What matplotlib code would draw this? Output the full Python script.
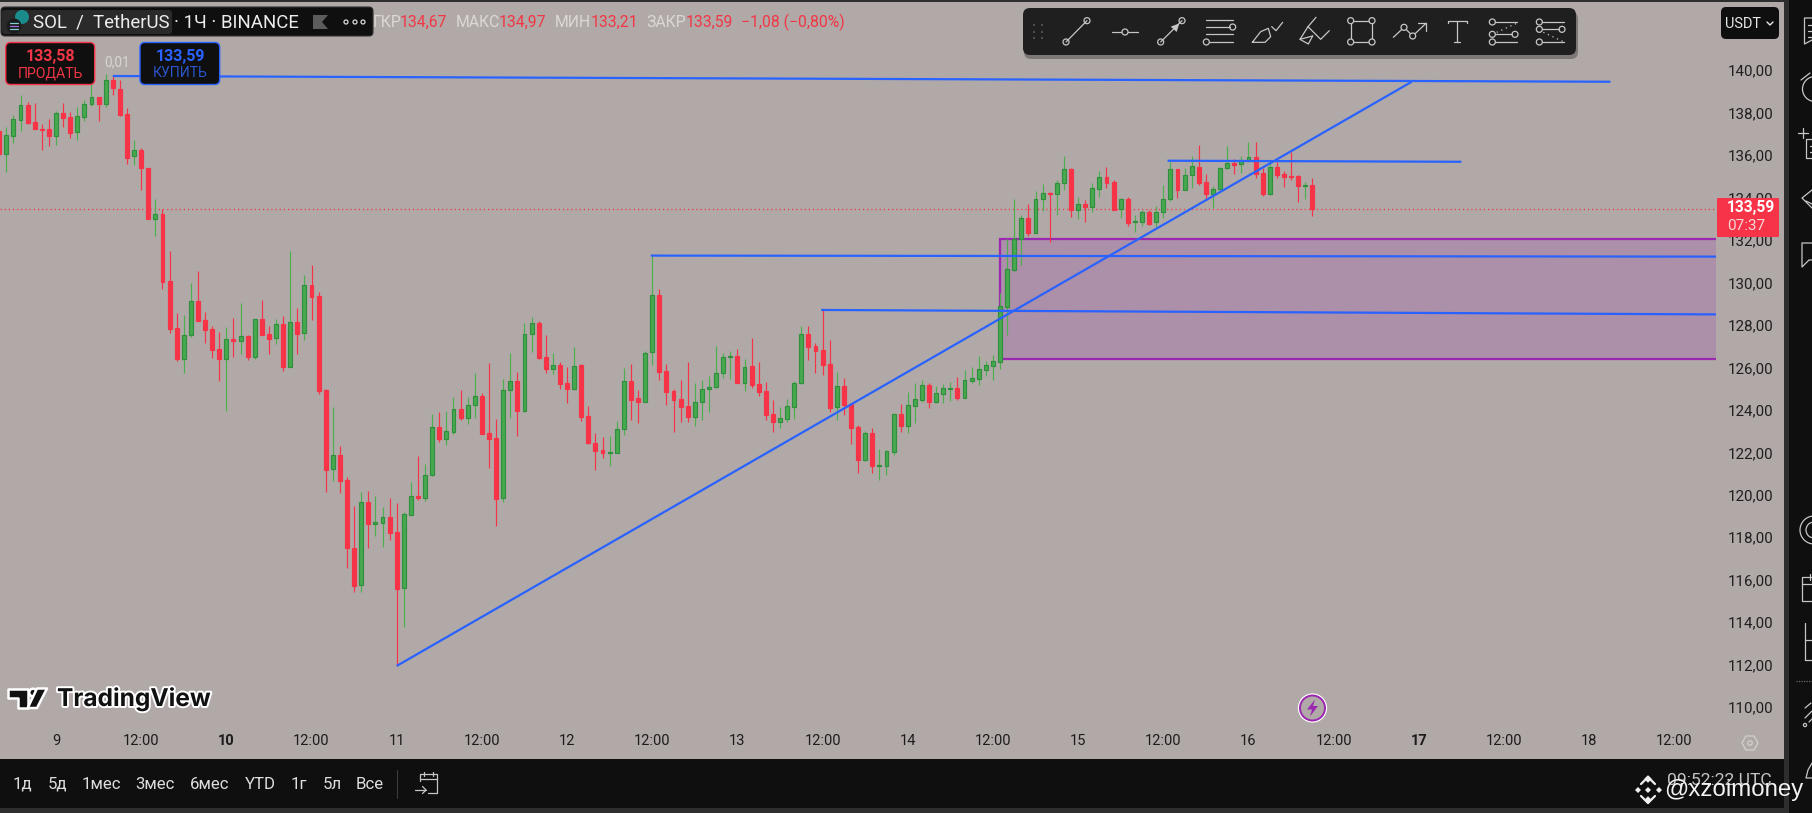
import numpy as np
import matplotlib
matplotlib.use('Agg')
import matplotlib.pyplot as plt
from matplotlib.patches import FancyBboxPatch, Rectangle, Polygon, Circle
from matplotlib.transforms import ScaledTranslation
import matplotlib.patheffects as pe

plt.rcParams['font.family'] = ['Roboto', 'DejaVu Sans']

# ---------- data: SOL/USDT 1h candles, hour 0 = day 9 00:00 ----------
first_hour = -8
opens = [137.25,136.15,137.03,137.78,138.46,137.67,137.34,137.34,137.03,138.08,137.91,137.19,137.92,138.51,138.84,138.54,139.65,139.21,138.03,136.06,136.35,135.51,133.12,133.34,130.17,127.95,126.53,127.62,129.23,128.33,127.91,126.97,126.53,127.44,127.37,127.59,126.62,128.39,127.67,127.51,128.16,126.15,128.25,127.72,129.98,129.46,125.05,121.31,121.97,120.79,117.61,115.88,119.76,118.75,118.80,119.05,118.35,115.71,119.18,120.04,119.98,121.03,123.31,122.76,
         123.09,124.14,123.75,124.36,124.75,123.01,122.77,119.95,125.03,125.46,124.08,127.67,128.19,126.60,126.05,126.21,125.36,125.11,126.21,123.81,122.54,122.22,122.10,122.10,123.23,125.46,124.67,124.50,126.82,129.51,125.93,124.99,124.61,124.28,123.79,124.50,125.08,125.18,125.83,126.59,126.64,125.36,126.16,125.33,124.99,123.90,123.56,123.70,124.26,125.36,127.67,127.12,126.92,126.26,124.23,125.22,124.39,123.29,121.77,123.01,121.49,121.49,
         122.14,123.90,123.37,124.31,124.59,125.27,124.50,124.88,125.11,125.14,124.69,125.49,125.58,126.01,126.20,126.38,128.97,130.72,132.15,133.14,132.46,134.03,134.34,134.27,134.78,135.44,133.54,133.80,133.69,134.53,135.07,134.85,133.56,134.03,132.95,132.98,133.42,132.95,133.42,134.06,135.44,134.49,135.16,135.55,134.83,134.30,134.53,135.49,135.74,135.68,135.85,136.01,135.27,134.30,135.54,135.21,135.13,135.11,134.66,134.71]
highs = [137.25,137.42,137.99,138.95,138.62,138.57,137.56,137.80,138.19,138.57,138.14,138.36,138.71,139.49,138.84,139.93,139.84,139.65,138.33,136.83,136.43,135.52,134.05,133.58,131.60,128.68,128.58,130.07,130.65,128.72,128.06,127.78,128.02,128.44,129.15,127.64,128.38,129.29,128.06,128.39,128.54,131.58,128.91,130.47,130.94,129.65,125.10,124.23,122.41,120.97,119.59,120.25,120.29,120.06,119.52,119.95,119.73,119.29,120.72,121.94,121.56,123.90,124.01,124.06,
         124.72,125.05,124.72,125.85,124.89,126.31,123.67,125.57,126.78,125.88,128.21,128.47,128.30,127.62,126.78,126.37,126.13,127.07,126.27,124.30,123.01,122.82,122.88,123.59,126.07,126.27,125.05,126.89,131.38,129.79,126.27,125.10,125.52,126.37,125.38,125.52,125.71,127.12,126.79,126.89,126.98,126.51,127.50,126.37,125.41,124.58,124.25,124.63,125.47,128.06,128.06,127.26,128.82,127.40,125.90,125.60,124.39,123.40,123.12,123.26,122.27,122.22,
         123.95,124.39,124.96,125.38,125.52,125.38,125.24,125.33,125.43,125.66,125.99,126.13,126.65,126.42,126.70,129.60,132.15,134.05,133.29,133.81,134.42,134.75,134.38,134.94,136.07,135.51,134.14,134.00,134.80,135.37,135.55,134.94,134.09,134.14,133.29,133.53,133.53,133.72,134.71,135.88,135.46,135.51,136.07,136.59,135.22,134.66,135.55,136.54,135.93,136.07,136.73,136.73,135.51,135.79,135.79,135.37,136.26,135.18,134.85,135.04]
lows = [136.17,135.32,136.70,137.27,137.58,137.33,136.37,136.56,136.61,137.44,136.94,136.84,137.74,138.43,137.74,138.40,138.95,137.96,135.71,135.65,134.49,133.12,132.32,129.82,127.75,126.43,125.87,127.56,128.30,127.28,126.57,125.49,124.06,126.62,126.75,126.48,126.53,127.66,126.75,127.22,125.96,126.15,126.75,127.40,128.35,124.88,120.26,120.76,120.21,116.68,115.55,115.55,117.62,118.17,117.65,117.98,112.05,113.90,119.18,119.87,119.82,121.01,122.62,122.46,
        122.98,123.64,123.45,123.73,122.98,121.38,118.64,119.77,123.73,122.88,124.01,126.84,126.51,125.85,125.80,125.10,124.44,125.05,123.59,122.51,121.28,121.85,121.47,122.10,122.93,123.64,123.49,124.49,126.23,125.52,124.34,123.07,123.54,123.54,123.35,123.64,124.01,125.14,125.61,125.57,125.36,125.00,125.14,124.77,123.64,123.07,123.26,123.54,123.68,125.33,126.46,125.83,125.76,124.01,123.64,123.87,122.51,121.14,121.71,121.14,120.81,121.06,
        121.99,123.07,123.02,123.49,124.49,124.20,124.44,124.44,124.53,124.58,124.67,125.38,125.29,125.71,125.52,126.04,127.64,130.67,130.94,132.30,132.45,133.48,132.02,133.29,134.47,133.20,133.10,132.96,133.43,134.14,134.56,133.53,133.15,132.77,132.49,132.77,132.82,132.73,133.15,133.95,134.09,134.47,134.56,134.71,134.05,133.62,134.47,135.46,135.22,135.27,135.84,135.04,134.19,134.23,135.04,134.61,134.94,133.90,134.05,133.25]
closes = [136.17,137.05,137.80,138.46,137.63,137.34,137.31,137.03,138.08,137.88,137.17,137.94,138.51,138.84,138.54,139.65,139.26,138.00,135.99,136.34,135.52,133.12,133.32,130.15,127.94,126.51,127.62,129.23,128.32,127.89,126.95,126.53,127.44,127.37,127.58,126.62,128.38,127.66,127.45,128.14,126.13,128.24,127.70,129.98,129.45,125.02,121.28,121.97,120.78,117.62,115.83,119.76,118.75,118.82,119.05,118.33,115.69,119.19,120.04,119.95,121.03,123.29,122.76,123.10,
          124.14,123.73,124.33,124.75,122.99,122.76,119.93,125.03,125.46,124.08,127.67,128.19,126.56,126.05,126.21,125.35,125.11,126.16,123.79,122.57,122.19,122.10,122.13,123.23,125.46,124.59,124.50,126.78,129.51,125.90,124.96,124.59,124.26,123.78,124.50,125.08,125.18,125.83,126.59,126.64,125.39,126.12,125.29,124.97,123.89,123.56,123.71,124.28,125.36,127.67,127.09,126.90,126.23,124.22,125.22,124.34,123.26,121.77,123.01,121.49,121.52,122.16,
          123.90,123.35,124.33,124.61,125.27,124.49,124.89,125.13,125.14,124.67,125.50,125.60,126.02,126.21,126.40,128.99,130.73,132.15,133.14,132.46,134.03,134.31,134.30,134.78,135.44,133.54,133.80,133.67,134.55,135.07,134.82,133.54,134.03,132.93,132.99,133.42,132.87,133.42,134.03,135.44,134.49,135.16,135.59,134.82,134.30,134.50,135.49,135.73,135.66,135.87,136.01,135.22,134.28,135.54,135.19,135.08,135.08,134.67,134.71,133.59]

price_ticks = list(range(110, 141, 2))
time_ticks = [0, 12, 24, 36, 48, 60, 72, 84, 96, 108, 120, 132, 144, 156, 168, 180, 192, 204, 216, 228]
time_labels = ['9', '12:00', '10', '12:00', '11', '12:00', '12', '12:00', '13', '12:00',
               '14', '12:00', '15', '12:00', '16', '12:00', '17', '12:00', '18', '12:00']
bold_labels = ['10', '17']
last_price = 133.59

# drawings: (hour, price) pairs
top_line_h, top_line_p = [8, 219], [139.84, 139.57]
trend_h, trend_p = [48, 191], [112.05, 139.57]
level_a_h, level_a_p = [83.8, 240], [131.38, 131.33]
level_b_h, level_b_p = [107.8, 240], [128.82, 128.60]
level_c_h, level_c_p = [156.6, 198], [135.85, 135.80]
zone_h, zone_p = (133, 240), (126.51, 132.18)

# ---------- colours ----------
BG = '#b1a9a7'; DARK = '#0f0f0f'; STRIP = '#2e2e2e'
GREEN = '#47a94f'; GREEN_E = '#2f8f3c'; RED = '#f63347'; BLUE = '#2962ff'; PURPLE = '#9c27b0'
ICON = '#c8c6c5'

W, H = 1812, 813
fig = plt.figure(figsize=(W/100, H/100), dpi=100, facecolor=BG)
ax = fig.add_axes([0, 1-726/H, 1716/W, 723/H], zorder=1)
ax.set_facecolor(BG)
ax.set_xlim(-7.89, 233.87)
ax.set_ylim(109.22, 143.28)
for s in ax.spines.values():
    s.set_visible(False)

hours = np.arange(len(opens)) + first_hour
o, h, l, c = map(np.array, (opens, highs, lows, closes))
down = c < o
up = ~down
ax.vlines(hours[up], l[up], h[up], color='#4caf50', lw=0.85, zorder=3)
ax.vlines(hours[down], l[down], h[down], color=RED, lw=0.85, zorder=3)
ax.bar(hours[up], (c-o)[up], bottom=o[up], width=0.55, color=GREEN, edgecolor=GREEN_E, linewidth=0.85, zorder=4)
ax.bar(hours[down], (o-c)[down], bottom=c[down], width=0.55, color=RED, edgecolor=RED, linewidth=0.85, zorder=4)

ax.add_patch(Rectangle((zone_h[0], zone_p[0]), zone_h[1]-zone_h[0], zone_p[1]-zone_p[0],
                       facecolor=(0.612, 0.153, 0.69, 0.2), edgecolor=PURPLE, linewidth=1.6, zorder=2))
for xs, ys in [(top_line_h, top_line_p), (trend_h, trend_p), (level_a_h, level_a_p),
               (level_b_h, level_b_p), (level_c_h, level_c_p)]:
    ax.plot(xs, ys, color=BLUE, lw=1.6, zorder=5, solid_capstyle='butt')
ax.axhline(last_price, color=RED, lw=1.0, ls=(0, (0.8, 2.2)), zorder=2.5)

ax.yaxis.tick_right()
ax.set_yticks(price_ticks)
ax.set_yticklabels([f'{p},00' for p in price_ticks], fontsize=10.9, color='#1f1f1f')
ax.tick_params(axis='y', length=0, pad=8.4)
ax.set_xticks(time_ticks)
ax.set_xticklabels(time_labels, fontsize=10.5, color='#1c1c1c')
ax.tick_params(axis='x', length=0, pad=6.0)
for lab in ax.get_xticklabels():
    if lab.get_text() in bold_labels:
        lab.set_fontweight('bold')
shift = ScaledTranslation(0, 2.4/100, fig.dpi_scale_trans)
for lab in ax.get_yticklabels():
    lab.set_transform(lab.get_transform() + shift)

# ---------- interface overlay in pixel coordinates ----------
ov = fig.add_axes([0, 0, 1, 1], zorder=2)
ov.set_xlim(0, W); ov.set_ylim(H, 0); ov.axis('off'); ov.patch.set_visible(False)

def box(x0, y0, x1, y1, fc, ec='none', r=0, lw=1, z=2, **kw):
    if r:
        p = FancyBboxPatch((x0, y0), x1-x0, y1-y0, boxstyle=f'round,pad=0,rounding_size={r}',
                           fc=fc, ec=ec, lw=lw, zorder=z, **kw)
    else:
        p = Rectangle((x0, y0), x1-x0, y1-y0, fc=fc, ec=ec, lw=lw, zorder=z, **kw)
    ov.add_patch(p)

def T(x, y, s, px=14, color='white', ha='center', va='center', z=6, **kw):
    return ov.text(x, y, s, fontsize=px*0.72, color=color, ha=ha, va=va, zorder=z, **kw)

def L(pts, color=ICON, lw=0.9, z=5, **kw):
    xs, ys = zip(*pts)
    ov.plot(xs, ys, color=color, lw=lw, zorder=z, solid_capstyle='round', **kw)

def ring(x, y, r=3, color=ICON, lw=0.9, fc=None, z=5.5):
    ov.add_patch(Circle((x, y), r, fc=fc if fc else 'none', ec=color, lw=lw, zorder=z))

# frame bars
box(0, 0, W, 2.4, STRIP)
box(1784, 0, 1789, H, STRIP, z=2.2)
box(1789, 0, W, H, DARK, z=2.2)
box(0, 759, 1784, 807.5, DARK)
box(0, 807.5, 1784, H, STRIP)

# header pill
box(1, 7, 373, 36, DARK, ec='#333333', r=4, lw=0.8, z=3)
box(2, 10, 172, 34, '#2a2a2a', r=3, z=3.2)
ov.add_patch(Circle((22, 17), 7, fc='#1b8c8c', ec='none', zorder=4))
ov.add_patch(Circle((14, 26), 7.5, fc='#1c1c1c', ec='none', zorder=4.2))
L([(10, 23), (18, 23)], color='#7fd0d0', lw=0.9)
L([(10, 26), (18, 26)], color='#a070e0', lw=0.9)
L([(10, 29), (18, 29)], color='#7fd0d0', lw=0.9)
T(33, 22.5, 'SOL  /  TetherUS', px=18.6, color='#ececec', ha='left')
T(174, 22.5, '· 1Ч · BINANCE', px=18.6, color='#ececec', ha='left')
ov.add_patch(Polygon([(313, 15), (328, 15), (322, 22), (328, 29), (313, 29)], fc='#5c5c5c', ec='none', zorder=5))
for xx in (346, 355, 363):
    ring(xx, 22, 2, color='#d8d8d8', lw=0.9)

# OHLC legend
GREY_T = '#dcd8d6'; RED_T = '#f23645'
for x, s, col in [(373, 'ГКР', GREY_T), (400, '134,67', RED_T), (456, 'МАКС', GREY_T), (499, '134,97', RED_T),
                  (555, 'МИН', GREY_T), (591, '133,21', RED_T), (646, 'ЗАКР', GREY_T), (686, '133,59', RED_T),
                  (741, '−1,08 (−0,80%)', RED_T)]:
    T(x, 22.5, s, px=15.8, color=col, ha='left')

# buy / sell buttons
box(5.7, 42.5, 94.7, 84.5, DARK, ec=RED, r=5, lw=1, z=3)
T(50, 56, '133,58', px=16, color=RED_T, fontweight='bold')
T(50, 73, 'ПРОДАТЬ', px=14, color=RED_T)
box(140, 42.5, 219.7, 84.5, DARK, ec=BLUE, r=5, lw=1, z=3)
T(180, 56, '133,59', px=16, color=BLUE, fontweight='bold')
T(180, 73, 'КУПИТЬ', px=14, color='#2a55cc')
T(117, 62.5, '0,01', px=13.5, color='#d8d5d3')

# drawing toolbar
box(1024, 12, 1578, 59, '#716b69', r=7, z=2.5, alpha=0.8)
box(1023, 8, 1576, 55, '#1f1f1f', r=7, z=3)
for xx in (1034, 1042):
    for yy in (25, 32, 38):
        ov.add_patch(Circle((xx, yy), 1, fc='#5a5a5a', ec='none', zorder=4))
def zt(zx, zy):
    return (1020 + zx/3, zy/3)
def line_ring(a, b):
    L([a, b])
    ring(*a); ring(*b)
line_ring(zt(138, 126), zt(201, 62))
L([zt(277, 96), zt(355, 96)]); ring(*zt(315, 96), fc='#1f1f1f')
line_ring(zt(422, 126), zt(486, 62))
ov.add_patch(Polygon([zt(478, 70), zt(452, 80), zt(470, 96)], fc=ICON, ec='none', zorder=5))
L([zt(557, 59), zt(640, 59)]); L([zt(557, 81), zt(630, 81)]); ring(*zt(638, 81))
L([zt(557, 103), zt(640, 103)]); L([zt(568, 126), zt(640, 126)]); ring(*zt(559, 126))
L([zt(697, 127), zt(722, 95), zt(745, 85), zt(752, 110), zt(735, 127), zt(697, 127)])
L([zt(755, 80), zt(768, 92), zt(788, 67)])
def zs(zx, zy):
    return (1300 + zx/3, zy/3)
L([zs(48, 52), zs(24, 80), zs(62, 118), zs(88, 92)])
L([zs(24, 80), zs(0, 118), zs(25, 132), zs(38, 108)])
L([zs(0, 118), zs(38, 108)])
r7 = [zs(152, 62), zs(216, 62), zs(216, 126), zs(152, 126), zs(152, 62)]
L(r7)
for p in r7[:4]:
    ring(*p, fc='#1f1f1f')
L([zs(280, 112), zs(312, 82), zs(338, 108), zs(378, 70)])
L([zs(355, 70), zs(378, 70), zs(378, 92)])
ring(*zs(312, 82), fc='#1f1f1f'); ring(*zs(338, 108), fc='#1f1f1f')
L([zs(445, 68), zs(445, 62), zs(500, 62), zs(500, 68)]); L([zs(471, 62), zs(471, 127)]); L([zs(462, 127), zs(480, 127)])
L([zs(585, 66), zs(650, 66)]); L([zs(585, 103), zs(637, 103)]); L([zs(585, 126), zs(650, 126)])
for p in [(577, 66), (577, 103), (645, 103), (577, 126)]:
    ring(*zs(*p))
L([zs(590, 97), zs(650, 70)], ls=(0, (1, 3)))
L([zs(726, 66), zs(792, 66)]); L([zs(726, 88), zs(778, 88)]); L([zs(726, 126), zs(792, 126)])
for p in [(718, 66), (718, 88), (786, 88), (718, 126)]:
    ring(*zs(*p))
L([zs(730, 97), zs(790, 125)], ls=(0, (1, 3)))

# price axis badges
box(1721, 7, 1779, 39, DARK, r=5, z=3)
T(1743, 24, 'USDT', px=14.5, color='#e8e8e8')
L([(1767, 22), (1770, 25), (1773, 22)], color='#e8e8e8', lw=1)
box(1717, 198, 1779, 237, RED, r=1, z=3)
T(1750.5, 207, '133,59', px=15.5, color='white', fontweight='bold')
T(1746.5, 226, '07:37', px=15.2, color='#f4d6d9')
ov.add_patch(Polygon([(1742, 743), (1746, 736), (1754, 736), (1758, 743), (1754, 750), (1746, 750)],
                     fc='none', ec='#d4d0ce', lw=0.9, zorder=5))
ring(1750, 743, 2.2, color='#d4d0ce')

# lightning badge
ring(1312.5, 708, 14, color='white', lw=0.9, fc='white', z=4)
ring(1312.5, 708, 12.5, color=PURPLE, lw=1.4, fc='#b1a9a7', z=4.2)
ov.add_patch(Polygon([(1315, 699.5), (1307, 709.5), (1312, 709.5), (1310, 716.5), (1318, 706), (1313, 706)],
                     fc=PURPLE, ec='none', zorder=5))

# TradingView mark
stroke = dict(fc='#111111', ec='white', lw=1.8, zorder=5, joinstyle='round')
ov.add_patch(Polygon([(8, 688.5), (27.7, 688.5), (27.7, 708), (18, 708), (18, 698), (8, 698)], **stroke))
ov.add_patch(Circle((33, 692.5), 3.8, **{k: v for k, v in stroke.items() if k != 'joinstyle'}))
ov.add_patch(Polygon([(47, 688.5), (37, 708), (27.7, 708), (37, 688.5)], **stroke))
T(57, 698.5, 'TradingView', px=24.5, color='#111111', ha='left', family='Inter', fontweight='bold',
  path_effects=[pe.withStroke(linewidth=2.8, foreground='white')])

# bottom range bar
for x, s in [(22, '1д'), (57, '5д'), (101, '1мес'), (155, '3мес'), (210, '6мес'), (260, 'YTD'),
             (299, '1г'), (332, '5л'), (370, 'Все')]:
    T(x, 784, s, px=16.8, color='#dedede')
L([(397, 770), (397, 798)], color='#3c3c3c', lw=0.8)
L([(420, 781), (420, 774), (437, 774), (437, 793), (428, 793)]); L([(420, 778.5), (437, 778.5)])
L([(424, 771.5), (424, 776)]); L([(433, 771.5), (433, 776)])
L([(415, 790), (426, 790)]); L([(422.5, 786.5), (426, 790), (422.5, 793.5)])

# clock, exchange mark and watermark
T(1719, 780, '09:52:22 UTC', px=17.5, color='#c4c4c4', z=5)
def diamond(cx, cy, r):
    ov.add_patch(Polygon([(cx, cy-r), (cx+r, cy), (cx, cy+r), (cx-r, cy)], fc='#efefef', ec='none', zorder=6))
diamond(1648, 779, 3.8); diamond(1648, 800, 3.8); diamond(1638, 790, 3); diamond(1659, 790, 3); diamond(1648, 790, 3)
L([(1641, 784), (1648, 777)], color='#efefef', lw=1.6, z=6); L([(1655, 784), (1648, 777)], color='#efefef', lw=1.6, z=6)
L([(1641, 796), (1648, 803)], color='#efefef', lw=1.6, z=6); L([(1655, 796), (1648, 803)], color='#efefef', lw=1.6, z=6)
T(1664, 790, '@xzoimoney', px=24, color='#f2f2f2', ha='left', family='Liberation Sans', z=7)

# right-hand tool strip
L([(1812, 18), (1804.5, 18), (1804.5, 44), (1812, 40)]); L([(1808, 25), (1812, 25)]); L([(1808, 31), (1812, 31)]); L([(1808, 37), (1812, 37)])
ov.add_patch(Circle((1815, 89), 12.5, fc='none', ec=ICON, lw=0.9, zorder=5))
L([(1801, 80), (1810, 73)])
L([(1798, 133), (1808, 133)]); L([(1803, 128), (1803, 138)])
L([(1812, 139), (1806, 139), (1806, 158), (1812, 158)]); L([(1810, 146), (1812, 146)]); L([(1810, 152), (1812, 152)])
L([(1812, 190), (1802, 198), (1812, 208)]); L([(1812, 204), (1806, 201)])
L([(1812, 243), (1802, 243), (1802, 267), (1809, 260), (1812, 260)])
ov.add_patch(Circle((1814, 530), 14, fc='none', ec=ICON, lw=0.9, zorder=5))
ov.add_patch(Circle((1814, 530), 8, fc='none', ec=ICON, lw=0.9, zorder=5))
L([(1812, 577), (1802, 577), (1802, 601), (1812, 601)]); L([(1802, 584), (1812, 584)]); L([(1810, 574), (1810, 580)])
L([(1805, 623), (1805, 660)]); L([(1805, 640), (1812, 640)]); L([(1805, 660), (1812, 660)])
L([(1796, 681), (1812, 681)], color='#6a6a6a', lw=0.9, ls=(0, (1, 1)))
ring(1805, 725, 1.6)
L([(1805, 718), (1812, 711)]); L([(1809, 722), (1812, 719)]); L([(1805, 708), (1811, 703)])
L([(1812, 763), (1808, 770), (1806, 778), (1812, 778)])

fig.savefig('out.png', dpi=100, facecolor=BG)
